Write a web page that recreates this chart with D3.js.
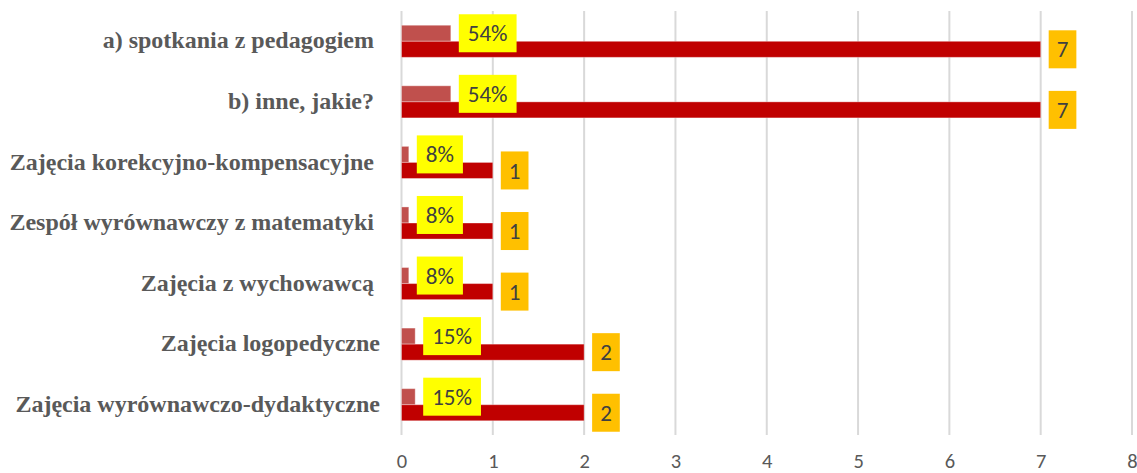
<!DOCTYPE html>
<html>
<head>
<meta charset="utf-8">
<script src="https://cdn.jsdelivr.net/npm/d3@7"></script>
<style>
  html, body { margin: 0; padding: 0; background: #fff; }
  svg { display: block; }
  .cat { white-space: pre; font-family: "Liberation Serif", "Times New Roman", Tinos, "DejaVu Serif", serif; font-weight: 700; font-size: 24px; }
  .num { font-family: Carlito, Calibri, Lato, "Open Sans", sans-serif; }
</style>
</head>
<body>
<svg id="chart" width="1137" height="473"></svg>
<script>
// Categories, top to bottom
const categories = [
  "a) spotkania z pedagogiem ",
  "b) inne, jakie? ",
  "Zajęcia korekcyjno-kompensacyjne ",
  "Zespół wyrównawczy z matematyki ",
  "Zajęcia z wychowawcą ",
  "Zajęcia logopedyczne",
  "Zajęcia wyrównawczo-dydaktyczne"
];
// Number of answers
const counts = [7, 7, 1, 1, 1, 2, 2];
// Share of answers (as fraction)
const shares = [0.54, 0.54, 0.08, 0.08, 0.08, 0.15, 0.15];
// X axis ticks
const xTicks = [0, 1, 2, 3, 4, 5, 6, 7, 8];

const svg = d3.select("#chart");
const plot = { left: 401.5, right: 1132, top: 11, bottom: 435 };

const x = d3.scaleLinear().domain([0, 8]).range([plot.left, plot.right]);
const y = d3.scaleBand().domain(d3.range(categories.length))
  .range([plot.top, plot.bottom]).paddingInner(0.47).paddingOuter(0.235);
const sub = d3.scaleBand().domain(["share", "count"]).range([0, y.bandwidth()]);

// Vertical gridlines
svg.append("g").selectAll("line").data(xTicks).join("line")
  .attr("x1", d => x(d)).attr("x2", d => x(d))
  .attr("y1", plot.top).attr("y2", plot.bottom)
  .attr("stroke", "#d9d9d9").attr("stroke-width", 2);

// X axis tick labels
const xAxis = d3.axisBottom(x).tickValues(xTicks).tickSize(0).tickPadding(0);
const gx = svg.append("g").attr("transform", `translate(0,${plot.bottom + 33})`).call(xAxis);
gx.select(".domain").remove();
gx.selectAll("text")
  .attr("class", "num")
  .attr("dy", 0)
  .attr("fill", "#595959")
  .style("font-size", "20.5px");

// Category labels
svg.append("g").selectAll("text").data(categories).join("text")
  .attr("class", "cat")
  .attr("x", 380)
  .attr("y", (d, i) => y(i) + y.bandwidth() / 2)
  .attr("dy", "0.3em")
  .attr("text-anchor", "end")
  .attr("fill", "#595959")
  .text(d => d);

// Bars
const rows = categories.map((c, i) => ({ i, count: counts[i], share: shares[i] }));

svg.append("g").selectAll("rect").data(rows).join("rect")
  .attr("x", x(0))
  .attr("y", d => y(d.i) + sub("share"))
  .attr("width", d => x(d.share) - x(0))
  .attr("height", sub.bandwidth())
  .attr("fill", "#c0504d")
  .attr("stroke", "rgba(255,255,255,0.35)").attr("stroke-width", 1);

svg.append("g").selectAll("rect").data(rows).join("rect")
  .attr("x", x(0))
  .attr("y", d => y(d.i) + sub("count"))
  .attr("width", d => x(d.count) - x(0))
  .attr("height", sub.bandwidth())
  .attr("fill", "#c00000")
  .attr("stroke", "rgba(255,255,255,0.35)").attr("stroke-width", 1);

// Value labels in boxes
function boxedLabels(key, fmt, fill, padX) {
  const g = svg.append("g").selectAll("g").data(rows).join("g")
    .attr("transform", d => `translate(${x(d[key]) + 8},${y(d.i) + sub(key) + sub.bandwidth() / 2})`);
  g.append("text")
    .attr("class", "num")
    .attr("x", padX)
    .attr("dy", "0.35em")
    .attr("fill", "#404040")
    .style("font-size", "23px")
    .text(d => fmt(d[key]));
  g.each(function () {
    const grp = d3.select(this);
    const w = grp.select("text").node().getComputedTextLength();
    grp.insert("rect", "text")
      .attr("x", 0).attr("y", -19)
      .attr("width", w + padX * 2).attr("height", 38)
      .attr("fill", fill);
  });
}
boxedLabels("share", d3.format(".0%"), "#ffff00", 9);
boxedLabels("count", d3.format("d"), "#ffc000", 8);
</script>
</body>
</html>
